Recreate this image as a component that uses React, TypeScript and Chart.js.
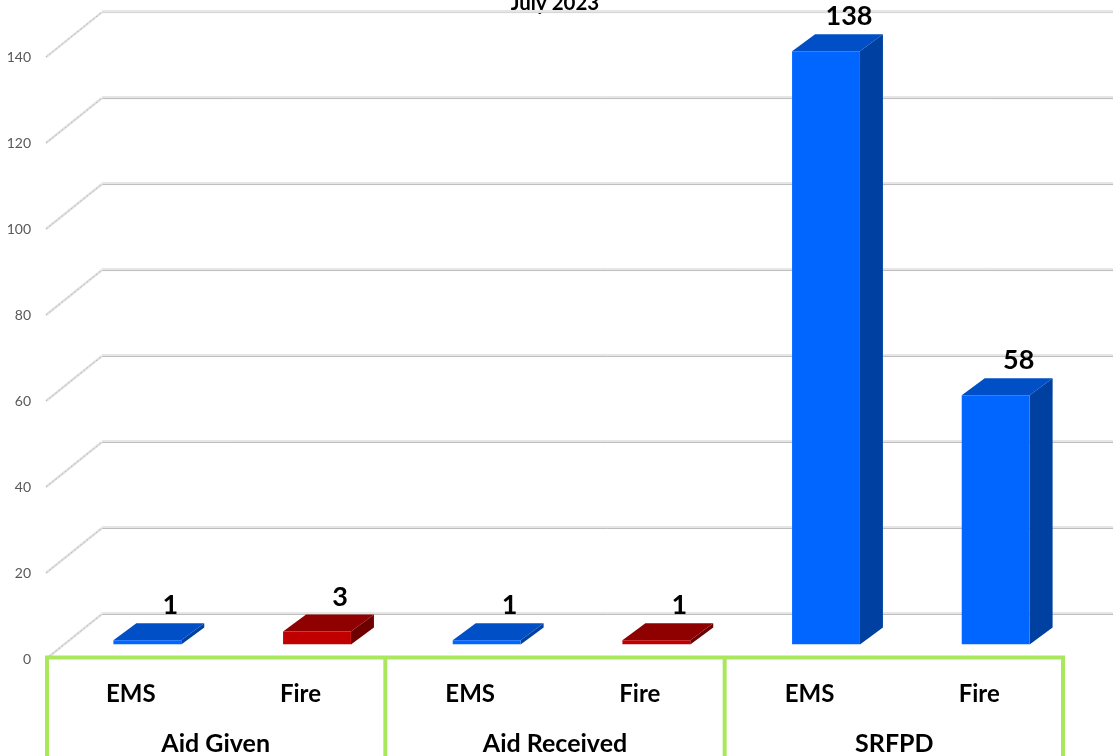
import React, { useEffect, useRef } from "react";
import { Chart, registerables } from "chart.js";

Chart.register(...registerables);

const categories = ["EMS", "Fire", "EMS", "Fire", "EMS", "Fire"];
const groups = ["Aid Given", "Aid Received", "SRFPD"];
const incidents = [1, 3, 1, 1, 138, 58];
const yTicks = [0, 20, 40, 60, 80, 100, 120, 140];

const BLUE = { front: "#0066ff", top: "#004fc6", side: "#0040a0" };
const RED = { front: "#c00000", top: "#8f0000", side: "#6e0000" };
const barPalette = [BLUE, RED, BLUE, RED, BLUE, BLUE];

const FONT = "Lato, Carlito, sans-serif";
const FLOOR = { dx: 56, dy: -45 };
const BAR_DEPTH = { dx: 23, dy: -17 };
const BAR_SHIFT = { dx: 16.5, dy: -14.5 };
const GREEN = "#a9e85c";

// Draws the 3D walls and floor, the bar sides, the value labels and the category frame.
const perspective = {
  id: "perspective",
  beforeDatasetsDraw(chart: any) {
    const { ctx, scales, chartArea, width } = chart;
    const y = scales.y;
    ctx.save();
    yTicks.forEach((value) => {
      const py = y.getPixelForValue(value);
      const bx = chartArea.left + FLOOR.dx;
      const by = py + FLOOR.dy;
      // back wall line with its soft highlight
      ctx.strokeStyle = "#e6e6e6";
      ctx.lineWidth = 3;
      ctx.beginPath();
      ctx.moveTo(bx, by - 0.5);
      ctx.lineTo(width, by - 0.5);
      ctx.stroke();
      ctx.strokeStyle = value === 140 ? "#d4d4d4" : "#bdbdbd";
      ctx.lineWidth = 1;
      ctx.beginPath();
      ctx.moveTo(bx, by + 0.5);
      ctx.lineTo(width, by + 0.5);
      ctx.stroke();
      // side wall line
      ctx.strokeStyle = "#e2e2e2";
      ctx.lineWidth = 2.5;
      ctx.beginPath();
      ctx.moveTo(chartArea.left, py);
      ctx.lineTo(bx, by);
      ctx.stroke();
      ctx.strokeStyle = "#bcbcbc";
      ctx.lineWidth = 1;
      ctx.setLineDash([2, 2]);
      ctx.beginPath();
      ctx.moveTo(chartArea.left, py);
      ctx.lineTo(bx, by);
      ctx.stroke();
      ctx.setLineDash([]);
    });

    const bars = chart.getDatasetMeta(0).data;
    bars.forEach((bar: any, i: number) => {
      const { x, y: top, base, width: w } = bar.getProps(["x", "y", "base", "width"], true);
      const left = x - w / 2 + BAR_SHIFT.dx;
      const right = x + w / 2 + BAR_SHIFT.dx;
      const yTop = top + BAR_SHIFT.dy;
      const yBase = base + BAR_SHIFT.dy;
      ctx.fillStyle = barPalette[i].top;
      ctx.beginPath();
      ctx.moveTo(left, yTop);
      ctx.lineTo(left + BAR_DEPTH.dx, yTop + BAR_DEPTH.dy);
      ctx.lineTo(right + BAR_DEPTH.dx, yTop + BAR_DEPTH.dy);
      ctx.lineTo(right, yTop);
      ctx.closePath();
      ctx.fill();
      ctx.fillStyle = barPalette[i].side;
      ctx.beginPath();
      ctx.moveTo(right, yTop);
      ctx.lineTo(right + BAR_DEPTH.dx, yTop + BAR_DEPTH.dy);
      ctx.lineTo(right + BAR_DEPTH.dx, yBase + BAR_DEPTH.dy);
      ctx.lineTo(right, yBase);
      ctx.closePath();
      ctx.fill();
    });
    ctx.restore();
  },
  beforeDatasetDraw(chart: any) {
    chart.ctx.save();
    chart.ctx.translate(BAR_SHIFT.dx, BAR_SHIFT.dy);
  },
  afterDatasetDraw(chart: any) {
    chart.ctx.restore();
  },
  afterDatasetsDraw(chart: any) {
    const { ctx, scales, chartArea } = chart;
    ctx.save();
    ctx.fillStyle = "#000";
    ctx.font = `bold 27px ${FONT}`;
    ctx.textAlign = "center";
    ctx.textBaseline = "middle";
    chart.getDatasetMeta(0).data.forEach((bar: any, i: number) => {
      const { x, y } = bar.getProps(["x", "y"], true);
      ctx.fillText(String(incidents[i]), x + BAR_SHIFT.dx + 23, y + BAR_SHIFT.dy - 34.5);
    });

    // frame around the two-level category axis
    const frameY = chartArea.bottom - 1.5;
    ctx.strokeStyle = GREEN;
    ctx.lineWidth = 4;
    ctx.lineJoin = "miter";
    ctx.beginPath();
    ctx.moveTo(chartArea.left + 1, chart.height + 4);
    ctx.lineTo(chartArea.left + 1, frameY);
    ctx.lineTo(chartArea.right - 1, frameY);
    ctx.lineTo(chartArea.right - 1, chart.height + 4);
    const step = (chartArea.right - chartArea.left) / groups.length;
    for (let g = 1; g < groups.length; g++) {
      const gx = scales.x.left + step * g;
      ctx.moveTo(gx, frameY);
      ctx.lineTo(gx, chart.height + 4);
    }
    ctx.stroke();
    ctx.restore();
  },
};

export default function App() {
  const ref = useRef<HTMLCanvasElement>(null);

  useEffect(() => {
    const chart = new Chart(ref.current!, {
      type: "bar",
      data: {
        labels: categories,
        datasets: [
          {
            data: incidents,
            backgroundColor: barPalette.map((c) => c.front),
            barPercentage: 0.4,
            categoryPercentage: 1,
          },
        ],
      },
      plugins: [perspective],
      options: {
        responsive: false,
        animation: false,
        layout: { padding: { top: -11, right: 49, bottom: 0, left: 0 } },
        plugins: {
          legend: { display: false },
          tooltip: { enabled: false },
          title: {
            display: true,
            text: "July 2023",
            color: "#000",
            fullSize: false,
            font: { family: FONT, size: 20.5, weight: "bold" },
            padding: { top: 2, bottom: 41.5 },
          },
        },
        scales: {
          x: {
            type: "category",
            position: "bottom",
            weight: 0,
            grid: { display: false },
            border: { display: false },
            afterFit: (s: any) => {
              s.height = 47;
            },
            ticks: {
              color: "#000",
              font: { family: FONT, size: 24, weight: "bold" },
              padding: 13,
              maxRotation: 0,
              autoSkip: false,
            },
          },
          group: {
            type: "category",
            axis: "x",
            position: "bottom",
            weight: 1,
            labels: groups,
            offset: true,
            grid: { display: false },
            border: { display: false },
            afterFit: (s: any) => {
              s.height = 50;
            },
            ticks: {
              color: "#000",
              font: { family: FONT, size: 25, weight: "bold" },
              padding: 15,
              maxRotation: 0,
              autoSkip: false,
            },
          },
          y: {
            min: 0,
            max: 140,
            afterFit: (s: any) => {
              s.width = 46;
            },
            grid: { display: false },
            border: { display: false },
            afterBuildTicks: (s: any) => {
              s.ticks = yTicks.map((value) => ({ value }));
            },
            ticks: {
              color: "#595959",
              font: { family: FONT, size: 14 },
              padding: 7,
            },
          },
        },
      },
    } as any);
    return () => chart.destroy();
  }, []);

  return (
    <canvas
      ref={ref}
      width={1113}
      height={756}
      style={{ position: "absolute", left: 0, top: 0, display: "block" }}
    />
  );
}
